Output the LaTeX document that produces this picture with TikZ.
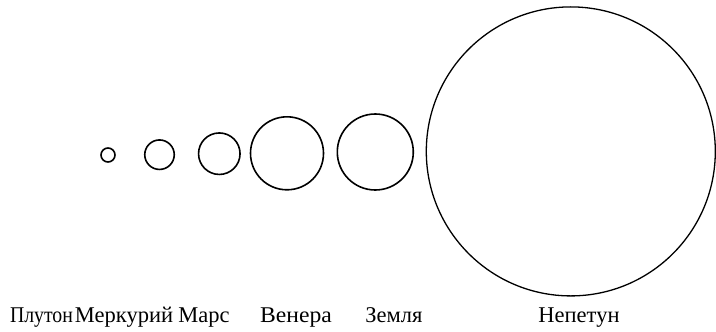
\documentclass[tikz,border=0pt]{standalone}
\usepackage{fontspec}
\setmainfont{Liberation Serif}
\begin{document}
\begin{tikzpicture}[x=1bp,y=1bp,
  planet/.style={circle,draw,line width=1.6bp,inner sep=0pt,minimum size=#1},
  pname/.style={anchor=base,inner sep=0pt,font=\fontsize{22.5bp}{26bp}\selectfont}]
  \useasboundingbox (0,0) rectangle (716,331);
  % planets, y measured upward from the bottom edge
  \node[planet=14bp]  (pluto)   at (108,176) {};
  \node[planet=29.5bp](mercury) at (159.5,176.3) {};
  \node[planet=41.5bp](mars)    at (219.3,177.3) {};
  \node[planet=73bp]  (venus)   at (287,177.7) {};
  \node[planet=76bp]  (earth)   at (375.3,179) {};
  \node[planet=289bp,line width=1.3bp] (neptune) at (570.8,179.6) {};
  % names along the bottom
  \node[pname] (lpluto)   at (41.5,8.3)  {\scalebox{0.88}[1]{Плутон}};
  \node[pname] (lmercury) at (124,8.3)   {Меркурий};
  \node[pname] (lmars)    at (204,8.3)   {Марс};
  \node[pname] (lvenus)   at (296,8.3)   {\scalebox{1.05}[1]{Венера}};
  \node[pname] (learth)   at (394,8.3)   {Земля};
  \node[pname] (lneptune) at (579,8.3)   {Непетун};
\end{tikzpicture}
\end{document}
